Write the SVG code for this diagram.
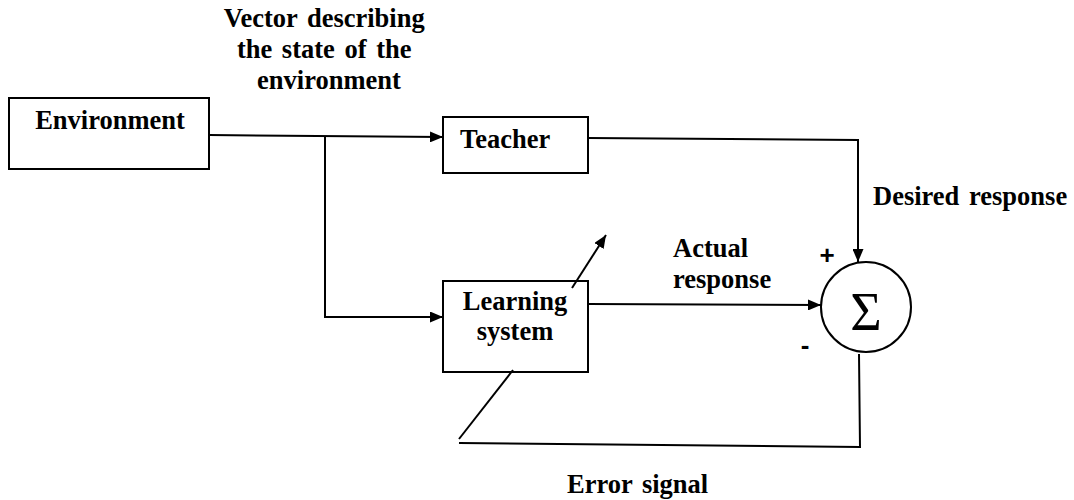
<svg xmlns="http://www.w3.org/2000/svg" width="1074" height="500" viewBox="0 0 1074 500">
  <style>
    .box { fill: #fff; stroke: #000; stroke-width: 2; }
    .lbl { font-family: "Liberation Serif", "Times New Roman", serif; font-weight: bold; font-size: 26.5px; word-spacing: 3px; fill: #000; }
    .wire { fill: none; stroke: #000; stroke-width: 2; }
    .sign { font-family: "Liberation Sans", Arial, sans-serif; font-weight: bold; font-size: 26px; fill: #000; }
  </style>
  <defs>
    <marker id="arrow" viewBox="0 0 13 11" refX="13" refY="5.5" markerWidth="13" markerHeight="11" markerUnits="userSpaceOnUse" orient="auto">
      <path d="M0,0 L13,5.5 L0,11 z" fill="#000"/>
    </marker>
  </defs>
  <rect width="1074" height="500" fill="#fff"/>

  <text class="lbl" text-anchor="middle">
    <tspan x="329" y="27">Vector describing</tspan>
    <tspan x="329" y="58">the state of the</tspan>
    <tspan x="329" y="89">environment</tspan>
  </text>

  <g id="environment">
    <rect class="box" x="9" y="98" width="200" height="71"/>
    <text class="lbl" x="110" y="129" text-anchor="middle">Environment</text>
  </g>

  <g id="teacher">
    <rect class="box" x="443" y="117" width="145" height="56"/>
    <text class="lbl" x="460" y="148">Teacher</text>
  </g>

  <g id="learning-system">
    <rect class="box" x="443" y="281" width="145" height="91"/>
    <text class="lbl" x="515" y="310" text-anchor="middle">Learning</text>
    <text class="lbl" x="515" y="340" text-anchor="middle">system</text>
  </g>

  <g id="summer">
    <circle cx="866" cy="307" r="45" fill="#fff" stroke="#000" stroke-width="2"/>
    <text x="866" y="330" text-anchor="middle" font-family="'Liberation Serif', 'Times New Roman', serif" font-size="54" fill="#000">Σ</text>
    <text class="sign" x="827" y="264" text-anchor="middle">+</text>
    <text class="sign" x="805" y="354" text-anchor="middle">-</text>
  </g>

  <g id="connectors">
    <path class="wire" d="M209,135 L443,137" marker-end="url(#arrow)"/>
    <path class="wire" d="M325,136 L325,317 L443,317" marker-end="url(#arrow)"/>
    <path class="wire" d="M588,138 L858,140 L858,262" marker-end="url(#arrow)"/>
    <path class="wire" d="M588,304 L821,305" marker-end="url(#arrow)"/>
    <path class="wire" d="M572,288 L606,235" marker-end="url(#arrow)"/>
    <path class="wire" d="M859,354 L860,447 L459,443"/>
    <path class="wire" d="M459,439 L513,370"/>
  </g>

  <text class="lbl" x="673" y="257">Actual</text>
  <text class="lbl" x="673" y="288">response</text>
  <text class="lbl" x="873" y="205">Desired response</text>
  <text class="lbl" x="567" y="493">Error signal</text>
</svg>
